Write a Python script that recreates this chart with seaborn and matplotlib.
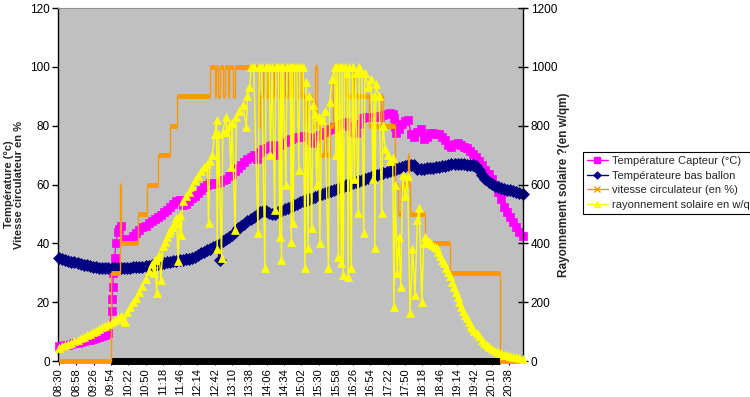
import matplotlib
matplotlib.use("Agg")
import matplotlib.pyplot as plt
import matplotlib.lines as mlines
import seaborn as sns

# graduations de l'axe des temps
etiquettes_x = ["08:30", "08:58", "09:26", "09:54", "10:22", "10:50", "11:18", "11:46",
                "12:14", "12:42", "13:10", "13:38", "14:06", "14:34", "15:02", "15:30",
                "15:58", "16:26", "16:54", "17:22", "17:50", "18:18", "18:46", "19:14",
                "19:42", "20:10", "20:38"]

# relevés toutes les 5 min à partir de 08:30
debut_releve = "08:30"
pas_releve = 5

# Température Capteur (°C)
capteur = [5.0, 5.2, 5.4, 5.6, 5.8, 6.0,
           6.2, 6.5, 6.8, 7.0, 7.3, 7.6, 7.9, 8.2, 8.6, 9.0, 9.5, 17.0,
           35.0, 44.0, 46.0, 41.5, 41.0, 41.5, 42.5, 43.5, 44.5, 45.5, 46.0, 46.8,
           47.5, 48.3, 49.0, 49.8, 50.5, 51.5, 52.5, 53.5, 54.5, 54.8, 53.2, 53.5,
           54.5, 55.3, 56.0, 57.0, 58.0, 59.0, 60.0, 60.5, 60.2, 60.5, 61.0, 61.5,
           62.0, 63.0, 63.5, 64.5, 65.5, 66.5, 67.5, 68.5, 69.5, 70.0, 68.5, 71.0,
           72.0, 72.5, 73.2, 73.5, 72.0, 70.0, 73.5, 74.6, 75.0, 75.5, 75.8, 76.0,
           76.3, 76.5, 76.0, 75.0, 74.0, 76.0, 76.8, 77.0, 77.8, 78.5, 79.0, 79.5,
           80.0, 80.5, 81.0, 81.4, 80.0, 78.0, 77.4, 80.5, 82.5, 82.8, 83.0, 83.0,
           83.0, 83.2, 83.0, 83.5, 84.0, 84.3, 84.0, 77.5, 79.0, 80.5, 81.5, 82.0,
           77.0, 76.0, 78.0, 79.0, 75.5, 76.0, 77.5, 77.5, 77.2, 77.0, 76.0, 75.0,
           73.5, 72.9, 73.8, 74.0, 73.5, 72.8, 72.3, 71.3, 70.2, 69.2, 68.0, 66.5,
           65.0, 63.5, 61.8, 60.0, 57.5, 55.0, 52.5, 50.5, 49.0, 47.4, 45.5, 44.0,
           42.5]
# points en plus pendant la montée brusque
capteur_saut_t = ["09:56", "09:57", "09:58", "10:02", "10:07", "17:32", "17:34"]
capteur_saut_v = [21.0, 25.0, 30.0, 40.0, 45.0, 82.5, 79.5]

# Températeure bas ballon (°C)
ballon = [35.0, 34.7, 34.4, 34.1, 33.8, 33.5,
          33.2, 33.0, 32.8, 32.6, 32.3, 32.0, 31.8, 31.6, 31.5, 31.5, 31.5, 31.5,
          31.5, 31.5, 31.5, 31.5, 31.6, 31.7, 31.8, 31.9, 32.0, 32.1, 32.2, 32.3,
          32.5, 32.7, 32.9, 33.1, 33.3, 33.5, 33.7, 33.9, 34.1, 34.3, 34.5, 34.6,
          34.8, 35.1, 35.5, 36.0, 36.6, 37.1, 37.6, 38.2, 38.8, 39.5, 34.5, 40.8,
          41.5, 42.3, 43.0, 44.0, 45.1, 45.9, 46.7, 47.5, 48.3, 49.1, 49.8, 50.5,
          51.0, 50.9, 50.2, 49.9, 50.1, 50.6, 51.1, 51.6, 52.1, 52.5, 53.0, 53.5,
          53.9, 54.3, 54.7, 55.1, 55.5, 55.9, 56.3, 56.7, 57.1, 57.5, 57.9, 58.3,
          58.6, 58.9, 59.3, 59.7, 60.0, 60.4, 60.8, 61.1, 61.5, 61.8, 62.1, 62.5,
          62.9, 63.3, 63.7, 64.0, 64.3, 64.6, 65.0, 65.3, 65.6, 65.9, 66.2, 66.5,
          66.7, 66.5, 65.2, 65.3, 65.4, 65.5, 65.6, 65.7, 65.8, 66.0, 66.2, 66.4,
          66.6, 66.8, 66.9, 66.9, 66.9, 66.8, 66.7, 66.6, 66.5, 66.3, 65.0, 63.3,
          62.0, 61.0, 60.1, 59.5, 59.1, 58.8, 58.6, 58.3, 58.1, 57.8, 57.4, 57.0,
          56.7]

# vitesse circulateur (en %), changements de palier
circ_t = ["08:30", "09:54", "10:09", "10:10", "10:38", "10:52", "11:10", "11:30", "11:41",
          "12:34", "12:42", "12:44", "12:48", "12:51", "12:56", "12:58", "13:03", "13:05",
          "13:12", "13:14", "13:52", "13:55", "14:00", "14:05", "14:08", "14:15", "14:18",
          "14:25", "14:28", "14:35", "14:40", "14:45", "14:48", "14:55", "15:00", "15:03",
          "15:08", "15:12", "15:20", "15:25", "15:27", "15:32", "15:38", "15:42", "15:48",
          "15:53", "16:14", "16:25", "16:28", "16:52", "17:11", "17:15", "17:34", "17:38",
          "17:44", "17:54", "17:56", "17:58", "18:22", "19:03", "20:23", "21:00"]
circ_v = [0, 30, 60, 40, 50, 60, 70, 80, 90,
          100, 90, 100, 90, 100, 90, 100, 90, 100,
          90, 100, 80, 90, 100, 90, 100, 90, 100,
          90, 100, 90, 100, 90, 100, 90, 100, 90,
          80, 90, 80, 100, 80, 70, 80, 70, 80,
          100, 90, 100, 90, 80, 90, 80, 60, 50,
          60, 70, 60, 50, 40, 30, 0, 0]

# rayonnement solaire en w/qm
ray_t = ["08:30", "08:35", "08:40", "08:45", "08:50", "08:55", "09:00", "09:05", "09:10", "09:15",
         "09:20", "09:25", "09:30", "09:35", "09:40", "09:45", "09:50", "09:55", "10:00", "10:05",
         "10:10", "10:15", "10:17", "10:20", "10:25", "10:30", "10:35", "10:40", "10:45", "10:50",
         "10:55", "11:00", "11:03", "11:05", "11:08", "11:10", "11:12", "11:15", "11:18", "11:22",
         "11:25", "11:28", "11:30", "11:33", "11:37", "11:40", "11:43", "11:45", "11:48", "11:50",
         "11:55", "12:00", "12:05", "12:10", "12:15", "12:20", "12:25", "12:30", "12:32", "12:34",
         "12:38", "12:42", "12:45", "12:46", "12:48", "12:53", "12:55", "13:00", "13:01", "13:05",
         "13:08", "13:10", "13:15", "13:17", "13:22", "13:27", "13:33", "13:35", "13:38", "13:41",
         "13:45", "13:52", "13:54", "13:58", "14:03", "14:05", "14:10", "14:12", "14:15", "14:19",
         "14:21", "14:25", "14:27", "14:29", "14:30", "14:32", "14:37", "14:39", "14:44", "14:46",
         "14:47", "14:49", "14:51", "14:55", "14:58", "15:00", "15:05", "15:08", "15:10", "15:13",
         "15:15", "15:19", "15:21", "15:24", "15:27", "15:30", "15:32", "15:35", "15:40", "15:46",
         "15:48", "15:52", "15:56", "15:58", "16:00", "16:02", "16:04", "16:07", "16:08", "16:10",
         "16:12", "16:16", "16:18", "16:20", "16:23", "16:25", "16:28", "16:30", "16:34", "16:36",
         "16:40", "16:43", "16:45", "16:50", "16:55", "16:58", "17:00", "17:01", "17:03", "17:08",
         "17:12", "17:14", "17:18", "17:22", "17:26", "17:30", "17:32", "17:34", "17:37", "17:40",
         "17:43", "17:46", "17:50", "17:54", "17:58", "18:02", "18:06", "18:10", "18:13", "18:17",
         "18:20", "18:22", "18:25", "18:28", "18:31", "18:34", "18:38", "18:41", "18:44", "18:47",
         "18:50", "18:53", "18:57", "19:00", "19:03", "19:06", "19:09", "19:12", "19:15", "19:18",
         "19:21", "19:24", "19:27", "19:30", "19:33", "19:36", "19:39", "19:42", "19:46", "19:50",
         "19:54", "19:58", "20:02", "20:06", "20:10", "20:15", "20:20", "20:25", "20:30", "20:35",
         "20:40", "20:45", "20:50", "20:55", "21:00"]
ray_v = [45, 50, 55, 58, 62, 67, 72, 77, 82, 88,
         93, 98, 103, 108, 114, 120, 126, 132, 138, 145,
         152, 140, 133, 165, 185, 200, 215, 235, 255, 280,
         305, 330, 300, 345, 230, 355, 360, 275, 390, 405,
         420, 435, 445, 455, 470, 485, 340, 495, 430, 545,
         560, 575, 595, 615, 630, 645, 660, 670, 470, 680,
         700, 770, 820, 380, 770, 350, 780, 830, 780, 800,
         660, 810, 446, 830, 850, 870, 797, 900, 930, 1000,
         1000, 435, 1000, 1000, 315, 1000, 1000, 700, 1000, 514,
         1000, 1000, 423, 1000, 343, 1000, 600, 1000, 1000, 406,
         1000, 470, 1000, 1000, 650, 1000, 1000, 315, 950, 383,
         900, 451, 870, 840, 600, 830, 400, 820, 850, 315,
         880, 960, 1000, 700, 1000, 355, 1000, 332, 1000, 293,
         1000, 980, 287, 1000, 315, 1000, 620, 980, 503, 1000,
         980, 435, 980, 930, 960, 620, 900, 384, 940, 900,
         503, 800, 720, 700, 680, 690, 185, 600, 300, 420,
         250, 633, 560, 630, 162, 380, 224, 480, 519, 202,
         400, 420, 411, 405, 400, 395, 388, 383, 370, 358,
         345, 332, 315, 302, 288, 270, 252, 235, 218, 200,
         185, 170, 158, 145, 133, 120, 112, 103, 94, 85,
         72, 62, 53, 46, 40, 35, 30, 26, 22, 19,
         16, 14, 12, 10, 8]

# trait noir au pied du graphique (pompe en marche)
pompe_t = ["09:54", "20:23"]
pompe_v = [0, 0]


def en_minutes(h):
    hh, mm = h.split(":")
    return int(hh) * 60 + int(mm)


t0 = en_minutes(debut_releve)
capteur_x = [t0 + pas_releve * i for i in range(len(capteur))]
ballon_x = [t0 + pas_releve * i for i in range(len(ballon))]
cap_pts = sorted(zip(capteur_x + [en_minutes(h) for h in capteur_saut_t], capteur + capteur_saut_v))
cap_x = [p[0] for p in cap_pts]
cap_v = [p[1] for p in cap_pts]
circ_x = [en_minutes(h) for h in circ_t]
ray_x = [en_minutes(h) for h in ray_t]

ROSE = "#FF00FF"
MARINE = "#000080"
ORANGE = "#FF9900"
JAUNE = "#FFFF00"

sns.set_theme(style="white")
plt.rcParams["font.family"] = ["Liberation Sans", "DejaVu Sans"]

fig = plt.figure(figsize=(7.5, 3.97), dpi=100)
ax = fig.add_axes([58 / 750, 36 / 397, 465 / 750, 353 / 397])
ax.set_facecolor("#C0C0C0")
ax2 = ax.twinx()

ax.plot([en_minutes(h) for h in pompe_t], pompe_v, color="black", lw=5,
        solid_capstyle="butt", clip_on=False, zorder=2)
sns.lineplot(x=cap_x, y=cap_v, ax=ax, color=ROSE, lw=1, marker="s", markersize=5.5,
             markeredgecolor=ROSE, markeredgewidth=0.5, clip_on=False, zorder=3)
sns.lineplot(x=ballon_x, y=ballon, ax=ax, color=MARINE, lw=1, marker="D", markersize=6,
             markeredgecolor=MARINE, markeredgewidth=0.5, clip_on=False, zorder=4)
sns.lineplot(x=circ_x, y=circ_v, ax=ax, color=ORANGE, lw=1, drawstyle="steps-post",
             clip_on=False, zorder=5)
ax.hlines(circ_v[:-1], circ_x[:-1], circ_x[1:], colors=ORANGE, lw=3.5, zorder=5,
          clip_on=False)
sns.lineplot(x=ray_x, y=ray_v, ax=ax2, color=JAUNE, lw=1, marker="^", markersize=5.5,
             markeredgecolor=JAUNE, markeredgewidth=0.5, clip_on=False, zorder=6)

ax.set_xlim(508.4, 1260.8)
ax.set_ylim(0, 120)
ax2.set_ylim(0, 1200)
ax.set_xticks([en_minutes(h) for h in etiquettes_x])
ax.set_xticklabels(etiquettes_x, rotation=90, fontsize=8)
ax.set_yticks(range(0, 121, 20))
ax2.set_yticks(range(0, 1201, 200))
ax.tick_params(axis="y", left=True, direction="out", length=4, width=1,
               labelsize=8.5, colors="black", pad=2)
ax.tick_params(axis="x", bottom=True, direction="out", length=3, width=0.8,
               labelsize=8, colors="black", pad=2)
ax2.tick_params(axis="y", right=True, direction="inout", length=7, width=1,
                labelsize=8.5, colors="black", pad=2)

for s in ["left", "bottom"]:
    ax.spines[s].set_color("black")
    ax.spines[s].set_linewidth(1)
ax.spines["right"].set_visible(False)
ax.spines["top"].set_color("#909090")
ax.spines["top"].set_linewidth(0.8)
for s in ["left", "bottom", "top"]:
    ax2.spines[s].set_visible(False)
ax2.spines["right"].set_color("black")
ax2.spines["right"].set_linewidth(1)

ax.set_xlabel("")
ax.set_ylabel("Température (°c)\nVitesse circulateur en %", fontsize=8,
              fontweight="bold", linespacing=1.0)
ax.yaxis.set_label_coords(-0.094, 0.5)
ax.yaxis.label.set(ha="center", va="center")
ax2.set_ylabel("Rayonnement solaire ?(en w/qm)", fontsize=8.5, fontweight="bold")
ax2.yaxis.set_label_coords(1.088, 0.5)
ax2.yaxis.label.set(ha="center", va="center")

poignees = [
    mlines.Line2D([], [], color=ROSE, lw=1, marker="s", markersize=4),
    mlines.Line2D([], [], color=MARINE, lw=1, marker="D", markersize=3.5),
    mlines.Line2D([], [], color=ORANGE, lw=1, marker="x", markersize=4),
    mlines.Line2D([], [], color=JAUNE, lw=1, marker="^", markersize=4.5),
]
noms = ["Température Capteur (°C)", "Températeure bas ballon",
        "vitesse circulateur (en %)", "rayonnement solaire en w/qm"]
leg = fig.legend(poignees, noms, loc="upper left", bbox_to_anchor=(583 / 750, 1 - 152 / 397),
                 frameon=True, fancybox=False, edgecolor="black", facecolor="white",
                 framealpha=1, fontsize=8, handlelength=1.9, handletextpad=0.35,
                 borderpad=0.35, labelspacing=0.42, borderaxespad=0)
leg.get_frame().set_linewidth(0.8)

fig.savefig("out.png", dpi=100)
